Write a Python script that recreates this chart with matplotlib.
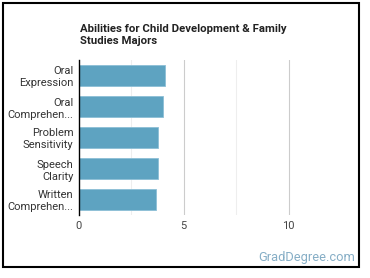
import matplotlib.pyplot as plt
from matplotlib.patches import Rectangle

plt.rcParams['font.family'] = ['Roboto', 'DejaVu Sans']

# abilities, top to bottom
labels = ["Oral\nExpression", "Oral\nComprehen...", "Problem\nSensitivity",
          "Speech\nClarity", "Written\nComprehen..."]
scores = [4.09, 4.03, 3.79, 3.79, 3.65]
xticks = [0, 5, 10]

fig = plt.figure(figsize=(3.7, 2.78), dpi=100)
W, H = 370, 278

# outer frame
fig.patches.append(Rectangle((3 / W, 1 - 267 / H), 356 / W, 264 / H,
                             transform=fig.transFigure, fill=False,
                             edgecolor='black', linewidth=1.5))

ax = fig.add_axes([79 / W, 1 - 215 / H, (341 - 79) / W, 155 / H])
ypos = list(range(len(labels)))[::-1]
ax.barh(ypos, scores, height=0.66, color='#5ea3c1', edgecolor='#8cbfd6',
        linewidth=0.6, zorder=3)

ax.set_xlim(0, 12.5)
ax.set_ylim(-0.5, len(labels) - 0.5)
ax.set_yticks(ypos)
ax.set_yticklabels(labels, fontsize=8, color='#333333', linespacing=1.25)
ax.set_xticks(xticks)
ax.set_xticklabels([str(t) for t in xticks], fontsize=8, color='#444444')
ax.tick_params(axis='both', length=0, pad=4)

for x in [2.5, 5, 7.5, 10]:
    ax.axvline(x, color='#cccccc' if x % 5 == 0 else '#eeeeee',
               linewidth=0.8, zorder=1)

for side in ['top', 'right', 'bottom']:
    ax.spines[side].set_visible(False)
ax.spines['left'].set_color('black')
ax.spines['left'].set_linewidth(1)
ax.spines['left'].set_zorder(4)

fig.text(80 / W, 1 - 24 / H, "Abilities for Child Development & Family\nStudies Majors",
         fontsize=8.2, fontweight='bold', color='#222222', va='top', ha='left',
         linespacing=1.3)
fig.text(355 / W, 1 - 261 / H, "GradDegree.com", fontsize=9.3, color='#86aec6',
         ha='right', va='baseline')

fig.savefig('out.png', dpi=100)
